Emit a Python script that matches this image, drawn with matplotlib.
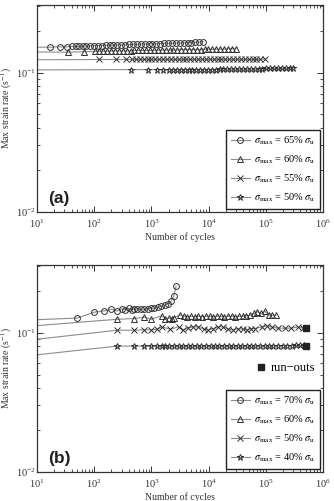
import matplotlib
matplotlib.use("Agg")
import matplotlib.pyplot as plt
from matplotlib.lines import Line2D
from matplotlib.ticker import LogLocator, NullFormatter

plt.rcParams['font.family'] = ['Liberation Serif', 'DejaVu Serif']
plt.rcParams['mathtext.fontset'] = 'stix'

# ---------------- Panel (a) data ----------------
a65_x = [1, 17, 25, 33, 40, 47, 55, 63, 72, 84, 98, 115, 135, 158, 185, 216, 253, 296, 346, 405,
         474, 555, 650, 760, 890, 1040, 1220, 1425, 1670, 1950, 2285, 2670, 3125, 3660, 4280,
         5000, 5860, 6860, 8000]
a65_y = [0.152, 0.152, 0.153, 0.153, 0.154, 0.154, 0.154, 0.155, 0.155,
         0.155, 0.156, 0.156, 0.156, 0.157, 0.157, 0.157, 0.158, 0.158, 0.158,
         0.159, 0.159, 0.159, 0.160, 0.160, 0.160, 0.161, 0.161, 0.161, 0.162,
         0.162, 0.162, 0.163, 0.163, 0.163, 0.164, 0.164, 0.165, 0.165, 0.166]
a60_x = [1, 35, 65, 105, 123, 144, 168, 197, 230, 270, 315, 370, 432, 505, 590, 690, 810, 945,
         1105, 1295, 1515, 1770, 2070, 2420, 2830, 3310, 3875, 4530, 5300, 6200, 7260, 8490,
         9930, 11620, 13600, 15900, 18600, 21800, 25500, 30000]
a60_y = [0.141, 0.140, 0.141, 0.142, 0.142, 0.142, 0.142, 0.143, 0.143, 0.143,
         0.143, 0.143, 0.143, 0.144, 0.144, 0.144, 0.144, 0.144, 0.144, 0.145,
         0.145, 0.145, 0.145, 0.145, 0.145, 0.146, 0.146, 0.146, 0.146, 0.146,
         0.146, 0.147, 0.147, 0.147, 0.147, 0.147, 0.147, 0.148, 0.148, 0.148]
a55_x = [1, 120, 240, 360, 460, 540, 630, 740, 860, 1000, 1170, 1370, 1600, 1870, 2190, 2560,
         2990, 3500, 4090, 4780, 5590, 6540, 7650, 8950, 10470, 12250, 14330, 16760, 19600,
         22930, 26820, 31370, 36700, 42930, 50220, 58740, 68710, 80370, 95000]
a55_y = [0.123, 0.124, 0.124, 0.124, 0.124, 0.124, 0.124, 0.124, 0.124, 0.124,
         0.124, 0.124, 0.124, 0.124, 0.124, 0.124, 0.124, 0.124, 0.124, 0.124,
         0.124, 0.124, 0.124, 0.124, 0.124, 0.124, 0.124, 0.124, 0.124, 0.124,
         0.124, 0.124, 0.124, 0.124, 0.124, 0.124, 0.124, 0.124, 0.125]
a50_x = [1, 440, 870, 1230, 1600, 2000, 2400, 2800, 3250, 3800, 4450, 5200, 6100, 7100, 8300,
         9700, 11400, 13300, 15600, 18200, 21300, 24900, 29100, 34100, 39900, 46700, 54600,
         63900, 74800, 87500, 102000, 120000, 140000, 164000, 192000, 225000, 263000, 300000]
a50_y = [0.104, 0.105, 0.105, 0.105, 0.105, 0.105, 0.105, 0.105, 0.105, 0.105,
         0.105, 0.105, 0.105, 0.105, 0.105, 0.105, 0.105, 0.105, 0.106, 0.106,
         0.106, 0.106, 0.106, 0.106, 0.106, 0.106, 0.106, 0.106, 0.106, 0.106,
         0.107, 0.107, 0.107, 0.107, 0.107, 0.107, 0.107, 0.108]
a_labels = [r'$\sigma_{\rm max}$ = 65% $\sigma_{\rm u}$', r'$\sigma_{\rm max}$ = 60% $\sigma_{\rm u}$',
            r'$\sigma_{\rm max}$ = 55% $\sigma_{\rm u}$', r'$\sigma_{\rm max}$ = 50% $\sigma_{\rm u}$']

# ---------------- Panel (b) data ----------------
b70_x = [1, 50, 100, 150, 200, 250, 300, 350, 400, 450, 500, 560, 650, 750, 860, 990, 1130,
         1300, 1490, 1700, 1950, 2220, 2450, 2700]
b70_y = [0.119, 0.127, 0.140, 0.143, 0.147, 0.143, 0.148, 0.145, 0.149, 0.145, 0.148, 0.148,
         0.147, 0.147, 0.148, 0.149, 0.150, 0.152, 0.154, 0.157, 0.161, 0.168, 0.182, 0.215]
b60_x = [1, 250, 500, 750, 1000, 1500, 1750, 2000, 2250, 2500, 3160, 3670, 4260, 4940, 5730,
         6650, 7710, 8950, 10380, 12040, 13970, 16200, 18800, 21800, 25300, 29300, 34000,
         39500, 45800, 53100, 61600, 71500, 82900, 96200, 111600, 129400, 150000]
b60_y = [0.104, 0.1245, 0.126, 0.129, 0.1245, 0.132, 0.126, 0.127, 0.126, 0.128,
         0.134, 0.131, 0.130, 0.131, 0.130, 0.131, 0.130, 0.131, 0.131, 0.130,
         0.131, 0.131, 0.130, 0.131, 0.131, 0.130, 0.131, 0.131, 0.132, 0.133,
         0.137, 0.141, 0.137, 0.142, 0.134, 0.133, 0.133]
b50_x = [1, 250, 500, 750, 1000, 1240, 1520, 2130, 2980, 3620, 4440, 5400, 6610, 8290, 9880,
         12100, 14800, 18100, 22000, 27000, 33000, 40500, 46000, 54300, 64600, 84600, 103000,
         126000, 165000, 215000, 280000, 370000, 450000]
b50_y = [0.0805, 0.1039, 0.1039, 0.1045, 0.1045, 0.1056, 0.1098, 0.1056, 0.1098, 0.1045,
         0.1086, 0.1098, 0.1098, 0.1056, 0.1045, 0.1068, 0.1098, 0.1098, 0.1056, 0.1045,
         0.1068, 0.1056, 0.1045, 0.1068, 0.1068, 0.1098, 0.1116, 0.1098, 0.1074, 0.1074,
         0.1074, 0.1098, 0.1074]
b40_x = [1, 250, 500, 750, 1000, 1250, 1500, 1750, 2000, 2500, 3000, 3600, 4300, 5200, 6200,
         7500, 9000, 10800, 13000, 15500, 18600, 22400, 26900, 32000, 38500, 46000, 55000,
         66000, 79000, 95000, 114000, 136000, 163000, 196000, 235000, 282000, 338000, 400000,
         460000]
b40_y = [0.0625, 0.0799, 0.0799, 0.0799, 0.0799, 0.0799, 0.0799, 0.0799, 0.0799, 0.0799,
         0.0799, 0.0799, 0.0799, 0.0799, 0.0799, 0.0800, 0.0800, 0.0800, 0.0800, 0.0800,
         0.0800, 0.0800, 0.0800, 0.0801, 0.0801, 0.0801, 0.0802, 0.0802, 0.0802, 0.0803,
         0.0803, 0.0804, 0.0805, 0.0806, 0.0806, 0.0807, 0.0808, 0.0808, 0.0808]
runout_x = [510000, 510000]
runout_y = [0.108, 0.0803]
b_labels = [r'$\sigma_{\rm max}$ = 70% $\sigma_{\rm u}$', r'$\sigma_{\rm max}$ = 60% $\sigma_{\rm u}$',
            r'$\sigma_{\rm max}$ = 50% $\sigma_{\rm u}$', r'$\sigma_{\rm max}$ = 40% $\sigma_{\rm u}$']

markers = ['o', '^', 'x', '*']
msizes = [4.2, 4.2, 4.0, 5.0]
LINE_C = '#8c8c8c'
MARK_C = '#303030'

fig = plt.figure(figsize=(3.34, 5.01), dpi=100)
ax_a = fig.add_axes([0.111, 0.577, 0.856, 0.413])
ax_b = fig.add_axes([0.111, 0.058, 0.856, 0.413])


def draw_panel(ax, series, labels, tag):
    handles = []
    for (xs, ys), m, ms in zip(series, markers, msizes):
        ax.plot(xs, ys, color=LINE_C, lw=0.8, zorder=2)
        ax.plot(xs[1:], ys[1:], ls='none', marker=m, ms=ms, mfc='none',
                mec=MARK_C, mew=0.7, zorder=3)
        handles.append(Line2D([], [], color=LINE_C, lw=0.8, marker=m, ms=ms,
                              mfc='none', mec=MARK_C, mew=0.7))
    ax.set_xscale('log')
    ax.set_yscale('log')
    ax.set_xlim(10, 1e6)
    ax.set_ylim(0.01, 0.305)
    ax.xaxis.set_major_locator(LogLocator(base=10, numticks=10))
    ax.xaxis.set_minor_locator(LogLocator(base=10, subs=range(2, 10), numticks=20))
    ax.xaxis.set_minor_formatter(NullFormatter())
    ax.yaxis.set_minor_formatter(NullFormatter())
    ax.tick_params(which='both', direction='in', top=True, right=True, labelsize=7.5,
                   colors='#333333')
    ax.tick_params(axis='x', pad=4)
    ax.tick_params(axis='y', pad=1)
    ax.tick_params(which='major', length=4, width=0.7)
    ax.tick_params(which='minor', length=2, width=0.6)
    for s in ax.spines.values():
        s.set_linewidth(0.9)
        s.set_color('#333333')
    ax.set_xlabel('Number of cycles', fontsize=7, color='#333333', va='top')
    ax.set_ylabel(r'Max strain rate (s$^{-1}$)', fontsize=7, color='#333333')
    ax.xaxis.set_label_coords(0.5, -0.1)
    ax.yaxis.set_label_coords(-0.08, 0.5)
    leg = ax.legend(handles, labels, loc='lower right', fontsize=7.5, handlelength=1.8,
                    handletextpad=0.4, labelspacing=0.62, borderpad=0.45,
                    borderaxespad=0.3, fancybox=False, framealpha=1)
    leg.get_frame().set_edgecolor('#222222')
    leg.get_frame().set_linewidth(1.0)
    ax.text(0.04, 0.03, tag, transform=ax.transAxes, fontsize=12.5, fontweight='bold',
            family='Liberation Sans', color='#222222', ha='left', va='bottom')
    return leg


draw_panel(ax_a, [(a65_x, a65_y), (a60_x, a60_y), (a55_x, a55_y), (a50_x, a50_y)],
           a_labels, '(a)')
leg_b = draw_panel(ax_b, [(b70_x, b70_y), (b60_x, b60_y), (b50_x, b50_y), (b40_x, b40_y)],
                   b_labels, '(b)')
ax_b.plot(runout_x, runout_y, ls='none', marker='s', ms=4.5, color='#222222', zorder=4)
ro = Line2D([], [], ls='none', marker='s', ms=4.5, color='#222222')
leg2 = ax_b.legend([ro], ['run\u2212outs'], loc='center right', bbox_to_anchor=(1.0, 0.502),
                   frameon=False, fontsize=9, handlelength=0.8, handletextpad=0.4,
                   borderaxespad=0.2)
ax_b.add_artist(leg_b)

fig.savefig('out.png', dpi=100)
